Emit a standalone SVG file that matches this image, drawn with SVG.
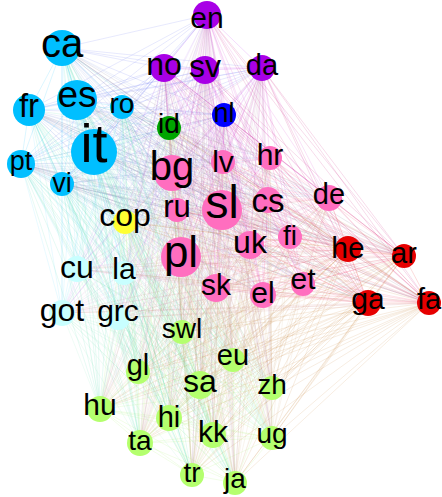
<svg xmlns="http://www.w3.org/2000/svg" width="442" height="497" viewBox="0 0 442 497">
<style>
.edges path{fill:none;stroke-width:.6;stroke-opacity:.24;stroke-linejoin:round}
.BB{stroke:#00BFFF}.BP{stroke:#5860F3}.BK{stroke:#8094DA}.BC{stroke:#60DFFF}.BR{stroke:#706080}.BG{stroke:#58DFB0}
.PP{stroke:#B000E8}.PK{stroke:#D834CE}.PC{stroke:#B880F4}.PR{stroke:#C80074}.PG{stroke:#B080A4}
.KK{stroke:#FF69B4}.KC{stroke:#E0B4DA}.KR{stroke:#F0345A}.KG{stroke:#D8B48A}
.CC{stroke:#A0F0F0}.CR{stroke:#D08080}.CG{stroke:#90E8C0}
.RR{stroke:#E00000}.RG{stroke:#C88030}.GG{stroke:#A0F060}
.node text{font-family:"Liberation Sans",Arial,Helvetica,sans-serif;fill:#000;text-anchor:middle}
.blue{fill:#00BFFF}.purple{fill:#A800E6}.navy{fill:#0000FF}.green{fill:#00A500}
.pink{fill:#FF6EBF}.yellow{fill:#FFFF33}.cyan{fill:#C8FFFF}.red{fill:#E60000}.lime{fill:#B4FF6E}
</style>
<rect width="442" height="497" fill="#fff"/>
<g id="edges" class="edges">
<path class="BB" d="M62 48L77 100 29 110 122 107 94 152 21 164 62 184 62 48 29 110 94 152 62 184 77 100 122 107 21 164 62 48 122 107 62 184 29 110 21 164 77 100 94 152 62 48"/>
<path class="PP" d="M207 15L164 68 205 70 262 68 224 115 207 15 205 70 224 115 164 68 262 68 207 15"/>
<path class="KK" d="M172 173L223 162 270 158 177 210 222 210 268 200 329 198 181 257 250 245 290 237 216 288 263 295 303 284 172 173 270 158 222 210 329 198 250 245 216 288 303 284 223 162 177 210 268 200 181 257 290 237 263 295 172 173 177 210 329 198 290 237 303 284 270 158 268 200 250 245 263 295 223 162 222 210 181 257 216 288 172 173 222 210 250 245 303 284 177 210 181 257 263 295 270 158 329 198 216 288 223 162 268 200 290 237 172 173 268 200 216 288 270 158 181 257 303 284 222 210 290 237 223 162 329 198 263 295 177 210 250 245 172 173 329 198 303 284 268 200 263 295 222 210 216 288 177 210 290 237 270 158 250 245 223 162 181 257 172 173"/>
<path class="GG" d="M169 128L125 222 182 332 233 360 138 372 200 385 272 388 100 409 169 418 213 435 272 438 140 443 192 475 169 128 182 332 138 372 272 388 169 418 272 438 192 475 125 222 233 360 200 385 100 409 213 435 140 443 169 128 233 360 272 388 213 435 192 475 182 332 200 385 169 418 140 443 125 222 138 372 100 409 272 438 169 128 138 372 169 418 192 475 233 360 100 409 140 443 182 332 272 388 272 438 125 222 200 385 213 435 169 128 200 385 272 438 182 332 100 409 192 475 138 372 213 435 125 222 272 388 140 443 233 360 169 418 169 128 272 388 192 475 200 385 140 443 138 372 272 438 233 360 213 435 182 332 169 418 125 222 100 409 169 128M169 128L235 483 125 222M182 332L235 483 233 360M138 372L235 483 200 385M272 388L235 483 100 409M169 418L235 483 213 435M272 438L235 483 140 443M192 475L235 483"/>
<path class="CC" d="M77 269L124 273 62 313 118 318 77 269 62 313M124 273L118 318"/>
<path class="RR" d="M348 249L404 256 368 303 429 303 348 249 368 303M404 256L429 303"/>
<path class="BP" d="M207 15L62 48 164 68 77 100 207 15 29 110 164 68 122 107 207 15 94 152 164 68 21 164 207 15 62 184 164 68M205 70L62 48 262 68 77 100 205 70 29 110 262 68 122 107 205 70 94 152 262 68 21 164 205 70 62 184 262 68M62 48L224 115 77 100M29 110L224 115 122 107M94 152L224 115 21 164M62 184L224 115"/>
<path class="BK" d="M62 48L172 173 77 100 223 162 62 48 270 158 77 100 177 210 62 48 222 210 77 100 268 200 62 48 329 198 77 100 181 257 62 48 250 245 77 100 290 237 62 48 216 288 77 100 263 295 62 48 303 284 77 100M29 110L172 173 122 107 223 162 29 110 270 158 122 107 177 210 29 110 222 210 122 107 268 200 29 110 329 198 122 107 181 257 29 110 250 245 122 107 290 237 29 110 216 288 122 107 263 295 29 110 303 284 122 107M94 152L172 173 21 164 223 162 94 152 270 158 21 164 177 210 94 152 222 210 21 164 268 200 94 152 329 198 21 164 181 257 94 152 250 245 21 164 290 237 94 152 216 288 21 164 263 295 94 152 303 284 21 164M172 173L62 184 223 162M270 158L62 184 177 210M222 210L62 184 268 200M329 198L62 184 181 257M250 245L62 184 290 237M216 288L62 184 263 295M303 284L62 184"/>
<path class="BC" d="M77 269L62 48 124 273 77 100 77 269 29 110 124 273 122 107 77 269 94 152 124 273 21 164 77 269 62 184 124 273M62 313L62 48 118 318 77 100 62 313 29 110 118 318 122 107 62 313 94 152 118 318 21 164 62 313 62 184 118 318"/>
<path class="BR" d="M348 249L62 48 404 256 77 100 348 249 29 110 404 256 122 107 348 249 94 152 404 256 21 164 348 249 62 184 404 256M368 303L62 48 429 303 77 100 368 303 29 110 429 303 122 107 368 303 94 152 429 303 21 164 368 303 62 184 429 303"/>
<path class="BG" d="M62 48L169 128 77 100 125 222 62 48 182 332 77 100 233 360 62 48 138 372 77 100 200 385 62 48 272 388 77 100 100 409 62 48 169 418 77 100 213 435 62 48 272 438 77 100 140 443 62 48 192 475 77 100 235 483 62 48M29 110L169 128 122 107 125 222 29 110 182 332 122 107 233 360 29 110 138 372 122 107 200 385 29 110 272 388 122 107 100 409 29 110 169 418 122 107 213 435 29 110 272 438 122 107 140 443 29 110 192 475 122 107 235 483 29 110M94 152L169 128 21 164 125 222 94 152 182 332 21 164 233 360 94 152 138 372 21 164 200 385 94 152 272 388 21 164 100 409 94 152 169 418 21 164 213 435 94 152 272 438 21 164 140 443 94 152 192 475 21 164 235 483 94 152M169 128L62 184 125 222M182 332L62 184 233 360M138 372L62 184 200 385M272 388L62 184 100 409M169 418L62 184 213 435M272 438L62 184 140 443M192 475L62 184 235 483"/>
<path class="PK" d="M207 15L172 173 164 68 223 162 207 15 270 158 164 68 177 210 207 15 222 210 164 68 268 200 207 15 329 198 164 68 181 257 207 15 250 245 164 68 290 237 207 15 216 288 164 68 263 295 207 15 303 284 164 68M205 70L172 173 262 68 223 162 205 70 270 158 262 68 177 210 205 70 222 210 262 68 268 200 205 70 329 198 262 68 181 257 205 70 250 245 262 68 290 237 205 70 216 288 262 68 263 295 205 70 303 284 262 68M172 173L224 115 223 162M270 158L224 115 177 210M222 210L224 115 268 200M329 198L224 115 181 257M250 245L224 115 290 237M216 288L224 115 263 295M303 284L224 115"/>
<path class="PC" d="M77 269L207 15 124 273 164 68 77 269 205 70 124 273 262 68 77 269 224 115 124 273M62 313L207 15 118 318 164 68 62 313 205 70 118 318 262 68 62 313 224 115 118 318"/>
<path class="PR" d="M348 249L207 15 404 256 164 68 348 249 205 70 404 256 262 68 348 249 224 115 404 256M368 303L207 15 429 303 164 68 368 303 205 70 429 303 262 68 368 303 224 115 429 303"/>
<path class="PG" d="M207 15L169 128 164 68 125 222 207 15 182 332 164 68 233 360 207 15 138 372 164 68 200 385 207 15 272 388 164 68 100 409 207 15 169 418 164 68 213 435 207 15 272 438 164 68 140 443 207 15 192 475 164 68 235 483 207 15M205 70L169 128 262 68 125 222 205 70 182 332 262 68 233 360 205 70 138 372 262 68 200 385 205 70 272 388 262 68 100 409 205 70 169 418 262 68 213 435 205 70 272 438 262 68 140 443 205 70 192 475 262 68 235 483 205 70M169 128L224 115 125 222M182 332L224 115 233 360M138 372L224 115 200 385M272 388L224 115 100 409M169 418L224 115 213 435M272 438L224 115 140 443M192 475L224 115 235 483"/>
<path class="KC" d="M77 269L172 173 124 273 223 162 77 269 270 158 124 273 177 210 77 269 222 210 124 273 268 200 77 269 329 198 124 273 181 257 77 269 250 245 124 273 290 237 77 269 216 288 124 273 263 295 77 269 303 284 124 273M62 313L172 173 118 318 223 162 62 313 270 158 118 318 177 210 62 313 222 210 118 318 268 200 62 313 329 198 118 318 181 257 62 313 250 245 118 318 290 237 62 313 216 288 118 318 263 295 62 313 303 284 118 318"/>
<path class="KR" d="M348 249L172 173 404 256 223 162 348 249 270 158 404 256 177 210 348 249 222 210 404 256 268 200 348 249 329 198 404 256 181 257 348 249 250 245 404 256 290 237 348 249 216 288 404 256 263 295 348 249 303 284 404 256M368 303L172 173 429 303 223 162 368 303 270 158 429 303 177 210 368 303 222 210 429 303 268 200 368 303 329 198 429 303 181 257 368 303 250 245 429 303 290 237 368 303 216 288 429 303 263 295 368 303 303 284 429 303"/>
<path class="KG" d="M169 128L172 173 125 222 223 162 169 128 270 158 125 222 177 210 169 128 222 210 125 222 268 200 169 128 329 198 125 222 181 257 169 128 250 245 125 222 290 237 169 128 216 288 125 222 263 295 169 128 303 284 125 222M182 332L172 173 233 360 223 162 182 332 270 158 233 360 177 210 182 332 222 210 233 360 268 200 182 332 329 198 233 360 181 257 182 332 250 245 233 360 290 237 182 332 216 288 233 360 263 295 182 332 303 284 233 360M138 372L172 173 200 385 223 162 138 372 270 158 200 385 177 210 138 372 222 210 200 385 268 200 138 372 329 198 200 385 181 257 138 372 250 245 200 385 290 237 138 372 216 288 200 385 263 295 138 372 303 284 200 385M272 388L172 173 100 409 223 162 272 388 270 158 100 409 177 210 272 388 222 210 100 409 268 200 272 388 329 198 100 409 181 257 272 388 250 245 100 409 290 237 272 388 216 288 100 409 263 295 272 388 303 284 100 409M169 418L172 173 213 435 223 162 169 418 270 158 213 435 177 210 169 418 222 210 213 435 268 200 169 418 329 198 213 435 181 257 169 418 250 245 213 435 290 237 169 418 216 288 213 435 263 295 169 418 303 284 213 435M272 438L172 173 140 443 223 162 272 438 270 158 140 443 177 210 272 438 222 210 140 443 268 200 272 438 329 198 140 443 181 257 272 438 250 245 140 443 290 237 272 438 216 288 140 443 263 295 272 438 303 284 140 443M192 475L172 173 235 483 223 162 192 475 270 158 235 483 177 210 192 475 222 210 235 483 268 200 192 475 329 198 235 483 181 257 192 475 250 245 235 483 290 237 192 475 216 288 235 483 263 295 192 475 303 284 235 483"/>
<path class="CR" d="M77 269L348 249 124 273 404 256 77 269 368 303 124 273 429 303 77 269M62 313L348 249 118 318 404 256 62 313 368 303 118 318 429 303 62 313"/>
<path class="CG" d="M77 269L169 128 124 273 125 222 77 269 182 332 124 273 233 360 77 269 138 372 124 273 200 385 77 269 272 388 124 273 100 409 77 269 169 418 124 273 213 435 77 269 272 438 124 273 140 443 77 269 192 475 124 273 235 483 77 269M62 313L169 128 118 318 125 222 62 313 182 332 118 318 233 360 62 313 138 372 118 318 200 385 62 313 272 388 118 318 100 409 62 313 169 418 118 318 213 435 62 313 272 438 118 318 140 443 62 313 192 475 118 318 235 483 62 313"/>
<path class="RG" d="M348 249L169 128 404 256 125 222 348 249 182 332 404 256 233 360 348 249 138 372 404 256 200 385 348 249 272 388 404 256 100 409 348 249 169 418 404 256 213 435 348 249 272 438 404 256 140 443 348 249 192 475 404 256 235 483 348 249M368 303L169 128 429 303 125 222 368 303 182 332 429 303 233 360 368 303 138 372 429 303 200 385 368 303 272 388 429 303 100 409 368 303 169 418 429 303 213 435 368 303 272 438 429 303 140 443 368 303 192 475 429 303 235 483 368 303"/>
</g>
<g id="nodes">
<g id="n-ca" class="node"><circle class="blue" cx="62" cy="48" r="18"/><text x="62" y="57" font-size="40">ca</text></g>
<g id="n-es" class="node"><circle class="blue" cx="77" cy="100" r="20"/><text x="77" y="107" font-size="37">es</text></g>
<g id="n-fr" class="node"><circle class="blue" cx="29" cy="110" r="16"/><text x="29" y="117" font-size="33">fr</text></g>
<g id="n-ro" class="node"><circle class="blue" cx="122" cy="107" r="12"/><text x="122" y="113" font-size="28">ro</text></g>
<g id="n-it" class="node"><circle class="blue" cx="94" cy="152" r="23"/><text x="94" y="162" font-size="54">it</text></g>
<g id="n-pt" class="node"><circle class="blue" cx="21" cy="164" r="14"/><text x="21" y="170" font-size="27">pt</text></g>
<g id="n-vi" class="node"><circle class="blue" cx="62" cy="184" r="12"/><text x="62" y="192" font-size="27">vi</text></g>
<g id="n-en" class="node"><circle class="purple" cx="207" cy="15" r="14"/><text x="207" y="28" font-size="30">en</text></g>
<g id="n-no" class="node"><circle class="purple" cx="164" cy="68" r="14"/><text x="164" y="75" font-size="32">no</text></g>
<g id="n-sv" class="node"><circle class="purple" cx="205" cy="70" r="14"/><text x="205" y="77" font-size="32">sv</text></g>
<g id="n-da" class="node"><circle class="purple" cx="262" cy="68" r="13"/><text x="262" y="75" font-size="29">da</text></g>
<g id="n-nl" class="node"><circle class="navy" cx="224" cy="115" r="12"/><text x="224" y="122" font-size="27">nl</text></g>
<g id="n-id" class="node"><circle class="green" cx="169" cy="128" r="12"/><text x="169" y="133" font-size="28">id</text></g>
<g id="n-bg" class="node"><circle class="pink" cx="172" cy="173" r="18"/><text x="172" y="180" font-size="40">bg</text></g>
<g id="n-lv" class="node"><circle class="pink" cx="223" cy="162" r="12"/><text x="223" y="172" font-size="30">lv</text></g>
<g id="n-hr" class="node"><circle class="pink" cx="270" cy="158" r="12"/><text x="270" y="165" font-size="30">hr</text></g>
<g id="n-ru" class="node"><circle class="pink" cx="177" cy="210" r="12"/><text x="177" y="217" font-size="31">ru</text></g>
<g id="n-sl" class="node"><circle class="pink" cx="222" cy="210" r="20"/><text x="222" y="218" font-size="46">sl</text></g>
<g id="n-cs" class="node"><circle class="pink" cx="268" cy="200" r="13"/><text x="268" y="212" font-size="33">cs</text></g>
<g id="n-de" class="node"><circle class="pink" cx="329" cy="198" r="13"/><text x="329" y="204" font-size="29">de</text></g>
<g id="n-pl" class="node"><circle class="pink" cx="181" cy="257" r="20"/><text x="181" y="267" font-size="44">pl</text></g>
<g id="n-uk" class="node"><circle class="pink" cx="250" cy="245" r="14"/><text x="250" y="253" font-size="32">uk</text></g>
<g id="n-fi" class="node"><circle class="pink" cx="290" cy="237" r="12"/><text x="290" y="245" font-size="28">fi</text></g>
<g id="n-sk" class="node"><circle class="pink" cx="216" cy="288" r="14"/><text x="216" y="295" font-size="30">sk</text></g>
<g id="n-el" class="node"><circle class="pink" cx="263" cy="295" r="13"/><text x="263" y="303" font-size="30">el</text></g>
<g id="n-et" class="node"><circle class="pink" cx="303" cy="284" r="12"/><text x="303" y="289" font-size="30">et</text></g>
<g id="n-cop" class="node"><circle class="yellow" cx="125" cy="222" r="12"/><text x="125" y="226" font-size="32">cop</text></g>
<g id="n-cu" class="node"><circle class="cyan" cx="77" cy="269" r="13"/><text x="77" y="278" font-size="32">cu</text></g>
<g id="n-la" class="node"><circle class="cyan" cx="124" cy="273" r="12"/><text x="124" y="279" font-size="30">la</text></g>
<g id="n-got" class="node"><circle class="cyan" cx="62" cy="313" r="13"/><text x="62" y="321" font-size="32">got</text></g>
<g id="n-grc" class="node"><circle class="cyan" cx="118" cy="318" r="12"/><text x="118" y="321" font-size="30">grc</text></g>
<g id="n-he" class="node"><circle class="red" cx="348" cy="249" r="13"/><text x="348" y="258" font-size="30">he</text></g>
<g id="n-ar" class="node"><circle class="red" cx="404" cy="256" r="12"/><text x="404" y="263" font-size="29">ar</text></g>
<g id="n-ga" class="node"><circle class="red" cx="368" cy="303" r="13"/><text x="368" y="309" font-size="30">ga</text></g>
<g id="n-fa" class="node"><circle class="red" cx="429" cy="303" r="12"/><text x="429" y="309" font-size="29">fa</text></g>
<g id="n-swl" class="node"><circle class="lime" cx="182" cy="332" r="12"/><text x="182" y="338" font-size="28">swl</text></g>
<g id="n-eu" class="node"><circle class="lime" cx="233" cy="360" r="12"/><text x="233" y="365" font-size="29">eu</text></g>
<g id="n-gl" class="node"><circle class="lime" cx="138" cy="372" r="12"/><text x="138" y="375" font-size="29">gl</text></g>
<g id="n-sa" class="node"><circle class="lime" cx="200" cy="385" r="14"/><text x="200" y="392" font-size="32">sa</text></g>
<g id="n-zh" class="node"><circle class="lime" cx="272" cy="388" r="12"/><text x="272" y="394" font-size="28">zh</text></g>
<g id="n-hu" class="node"><circle class="lime" cx="100" cy="409" r="13"/><text x="100" y="415" font-size="30">hu</text></g>
<g id="n-hi" class="node"><circle class="lime" cx="169" cy="418" r="13"/><text x="169" y="427" font-size="29">hi</text></g>
<g id="n-kk" class="node"><circle class="lime" cx="213" cy="435" r="13"/><text x="213" y="442" font-size="30">kk</text></g>
<g id="n-ug" class="node"><circle class="lime" cx="272" cy="438" r="12"/><text x="272" y="443" font-size="28">ug</text></g>
<g id="n-ta" class="node"><circle class="lime" cx="140" cy="443" r="13"/><text x="140" y="450" font-size="28">ta</text></g>
<g id="n-tr" class="node"><circle class="lime" cx="192" cy="475" r="12"/><text x="192" y="482" font-size="28">tr</text></g>
<g id="n-ja" class="node"><circle class="lime" cx="235" cy="483" r="12"/><text x="235" y="488" font-size="28">ja</text></g>
</g>
</svg>
